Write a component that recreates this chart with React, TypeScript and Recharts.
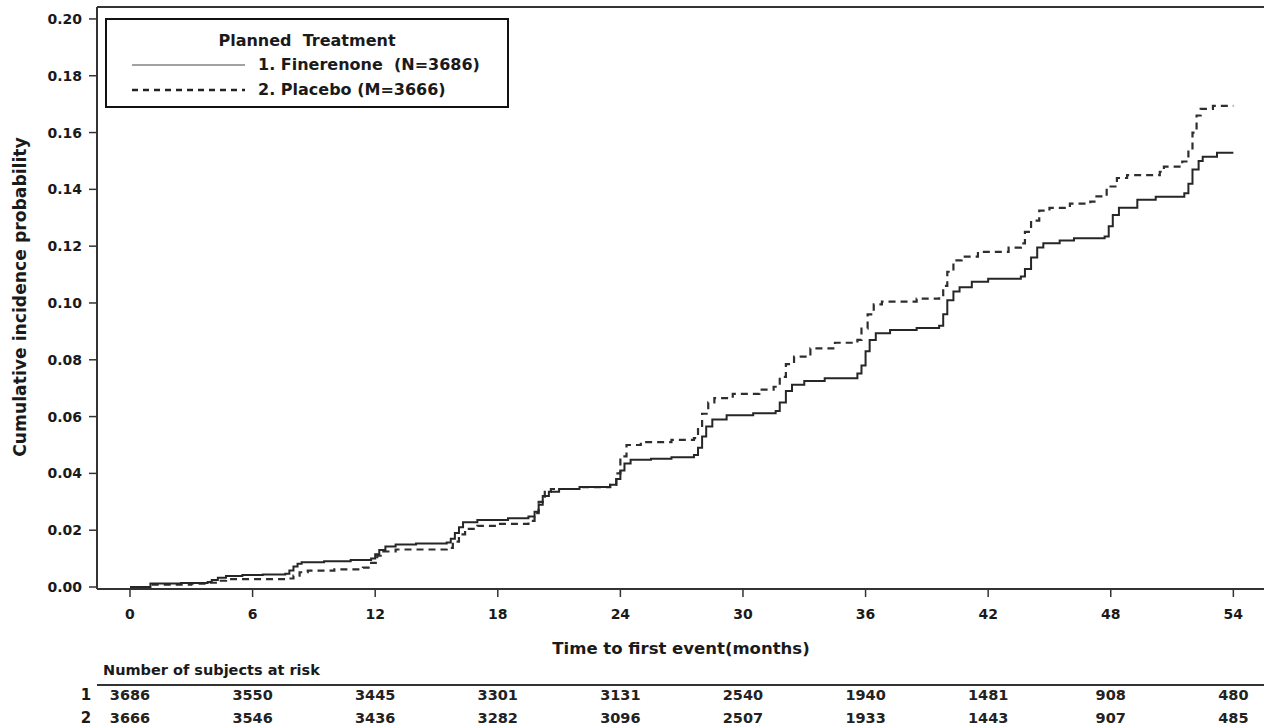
import { CartesianGrid, ComposedChart, Line, ReferenceLine, XAxis, YAxis } from 'recharts';

// Cumulative incidence (time to first event), Finerenone vs Placebo,
// with the number-at-risk table under the x axis.

const FONT = "'DejaVu Sans', Verdana, sans-serif";
const INK = '#1a1a1a';

const monthTicks = [0, 6, 12, 18, 24, 30, 36, 42, 48, 54];
const cifTicks = [0, 0.02, 0.04, 0.06, 0.08, 0.1, 0.12, 0.14, 0.16, 0.18, 0.2];

const riskFinerenone = [3686, 3550, 3445, 3301, 3131, 2540, 1940, 1481, 908, 480];
const riskPlacebo = [3666, 3546, 3436, 3282, 3096, 2507, 1933, 1443, 907, 485];

const finerenoneMonths = [
  0, 1.0, 2.5, 3.8, 4.0, 4.3, 4.7, 5.5, 6.5, 7.6, 7.8, 8.0, 8.2, 8.4, 9.5, 10.8, 11.8, 12.0,
  12.2, 12.5, 13.0, 14.0, 15.5, 15.7, 15.9, 16.1, 16.3, 17.0, 18.5, 19.5, 19.8, 20.0, 20.2,
  20.5, 21.0, 22.0, 23.5, 23.8, 24.0, 24.2, 24.5, 25.5, 26.5, 27.6, 27.8, 28.0, 28.2, 28.5,
  29.2, 30.5, 31.6, 31.8, 32.1, 32.4, 33.0, 34.0, 35.6, 35.8, 36.0, 36.2, 36.5, 37.2, 38.5,
  39.6, 39.8, 40.0, 40.3, 40.6, 41.2, 42.0, 43.6, 43.8, 44.1, 44.4, 44.7, 45.5, 46.2, 47.7,
  47.9, 48.1, 48.4, 49.3, 50.2, 51.6, 51.8, 52.0, 52.3, 52.5, 53.2, 54.0,
];
const finerenoneCif = [
  0, 0.0012, 0.0014, 0.0018, 0.0025, 0.0033, 0.0039, 0.0042, 0.0044, 0.0047, 0.0058, 0.0072,
  0.0082, 0.0087, 0.0091, 0.0095, 0.01, 0.0115, 0.013, 0.0143, 0.015, 0.0153, 0.0157, 0.017,
  0.019, 0.021, 0.0228, 0.0236, 0.0242, 0.0248, 0.0265, 0.029, 0.032, 0.0335, 0.0345, 0.0352,
  0.036, 0.038, 0.041, 0.0435, 0.0448, 0.0452, 0.0457, 0.0465, 0.049, 0.053, 0.0565, 0.059,
  0.0605, 0.0612, 0.062, 0.065, 0.069, 0.0712, 0.0725, 0.0735, 0.0752, 0.078, 0.083, 0.087,
  0.0893, 0.0905, 0.0912, 0.092, 0.096, 0.101, 0.104, 0.1055, 0.1075, 0.1085, 0.1093, 0.112,
  0.116, 0.1195, 0.121, 0.122, 0.1228, 0.1234, 0.127, 0.131, 0.1335, 0.1363, 0.1374, 0.1386,
  0.142, 0.147, 0.15, 0.1515, 0.1529, 0.1529,
];

const placeboMonths = [
  0, 1.0, 3.0, 3.8, 4.2, 4.7, 7.8, 8.0, 8.3, 8.7, 10.0, 11.4, 11.8, 12.1, 12.4, 13.0, 15.5,
  15.8, 16.1, 16.4, 17.0, 18.0, 19.5, 19.8, 20.0, 20.3, 20.6, 22.0, 23.5, 23.8, 24.0, 24.3,
  25.0, 26.5, 27.6, 27.8, 28.0, 28.3, 28.6, 29.5, 30.8, 31.5, 31.8, 32.1, 32.5, 33.3, 34.5,
  35.6, 35.8, 36.1, 36.4, 36.8, 38.5, 39.6, 39.8, 40.0, 40.3, 40.7, 41.5, 43.0, 43.6, 43.8,
  44.1, 44.5, 45.0, 46.0, 47.0, 47.3, 47.8, 48.3, 48.8, 50.4, 50.6, 51.5, 51.8, 52.0, 52.2,
  52.4, 53.0, 54.0,
];
const placeboCif = [
  0, 0.0008, 0.0012, 0.0015, 0.0022, 0.0028, 0.003, 0.004, 0.0052, 0.0058, 0.0062, 0.0068,
  0.0085, 0.011, 0.0125, 0.0132, 0.0138, 0.016, 0.0185, 0.0205, 0.0215, 0.0222, 0.0233, 0.026,
  0.03, 0.0335, 0.0345, 0.0352, 0.036, 0.04, 0.046, 0.05, 0.051, 0.0518, 0.0524, 0.056, 0.061,
  0.065, 0.0665, 0.068, 0.0695, 0.0705, 0.074, 0.0785, 0.0811, 0.084, 0.086, 0.087, 0.091,
  0.096, 0.0995, 0.1005, 0.1015, 0.1022, 0.106, 0.111, 0.115, 0.1163, 0.118, 0.1195, 0.121,
  0.125, 0.129, 0.1325, 0.1335, 0.135, 0.1357, 0.1375, 0.141, 0.144, 0.145, 0.1462, 0.148,
  0.1498, 0.154, 0.16, 0.166, 0.1683, 0.1694, 0.1694,
];

const finerenoneData = finerenoneMonths.map((month, i) => ({ month, cif: finerenoneCif[i] }));
const placeboData = placeboMonths.map((month, i) => ({ month, cif: placeboCif[i] }));

const X_DOMAIN: [number, number] = [-1.615, 55.5];
const Y_DOMAIN: [number, number] = [-0.0007, 0.2042];

// tick label + the two at-risk counts under it
function MonthTick(props: any) {
  const { x, y, payload } = props;
  const i = monthTicks.indexOf(payload.value);
  const base = { fontFamily: FONT, fontWeight: 700, textAnchor: 'middle' as const, dominantBaseline: 'central' as const };
  return (
    <g>
      <text x={x} y={y + 17} fontSize={14} fill={INK} {...base}>
        {payload.value}
      </text>
      <text x={x} y={y + 98} fontSize={14.5} fill="#222" {...base}>
        {riskFinerenone[i]}
      </text>
      <text x={x} y={y + 121} fontSize={14.5} fill="#222" {...base}>
        {riskPlacebo[i]}
      </text>
    </g>
  );
}

function Overlay() {
  const bold = { fontFamily: FONT, fontWeight: 700, fill: INK, dominantBaseline: 'central' as const };
  return (
    <svg
      width={1264}
      height={727}
      style={{ position: 'absolute', left: 0, top: 0, pointerEvents: 'none' }}
    >
      <text x={20} y={297} fontSize={17.2} textAnchor="middle" transform="rotate(-90 20 297)" {...bold}>
        Cumulative incidence probability
      </text>
      <text x={681} y={648} fontSize={16.5} textAnchor="middle" {...bold}>
        Time to first event(months)
      </text>

      {/* at-risk table */}
      <text x={103} y={670} fontSize={14.5} {...bold}>
        Number of subjects at risk
      </text>
      <line x1={97} x2={1264} y1={685} y2={685} stroke="#333" strokeWidth={2} />
      <text x={86} y={695} fontSize={15} textAnchor="middle" {...bold}>
        1
      </text>
      <text x={86} y={718} fontSize={15} textAnchor="middle" {...bold}>
        2
      </text>

      {/* legend */}
      <rect x={106} y={19} width={402} height={88} fill="#fff" stroke="#111" strokeWidth={2} />
      <text x={307} y={40} fontSize={16} textAnchor="middle" style={{ whiteSpace: 'pre' }} {...bold}>
        {'Planned  Treatment'}
      </text>
      <line x1={132} x2={245} y1={65} y2={65} stroke="#444" strokeWidth={1} />
      <text x={258} y={64} fontSize={16} style={{ whiteSpace: 'pre' }} {...bold}>
        {'1. Finerenone  (N=3686)'}
      </text>
      <line x1={132} x2={245} y1={90} y2={90} stroke="#222" strokeWidth={2.5} strokeDasharray="6 5" />
      <text x={258} y={89} fontSize={16} style={{ whiteSpace: 'pre' }} {...bold}>
        {'2. Placebo (M=3666)'}
      </text>
    </svg>
  );
}

export default function App() {
  return (
    <div style={{ position: 'absolute', left: 0, top: 0, width: 1264, height: 727, background: '#fff' }}>
      <ComposedChart width={1264} height={727} margin={{ top: 7, right: 0, left: 0, bottom: 0 }}>
        <CartesianGrid stroke="none" />
        <XAxis
          type="number"
          dataKey="month"
          domain={X_DOMAIN}
          allowDataOverflow
          ticks={monthTicks}
          height={138}
          tickSize={8}
          tickMargin={0}
          axisLine={{ stroke: '#333', strokeWidth: 2 }}
          tickLine={{ stroke: '#333', strokeWidth: 1.5 }}
          tick={<MonthTick />}
          interval={0}
        />
        <YAxis
          type="number"
          domain={Y_DOMAIN}
          allowDataOverflow
          ticks={cifTicks}
          width={97}
          tickSize={8}
          tickMargin={7}
          interval={0}
          tickFormatter={(v: number) => v.toFixed(2)}
          axisLine={{ stroke: '#333', strokeWidth: 2 }}
          tickLine={{ stroke: '#333', strokeWidth: 1.5 }}
          tick={{ fontFamily: FONT, fontWeight: 700, fontSize: 14, fill: INK }}
        />
        <ReferenceLine y={Y_DOMAIN[1]} stroke="#333" strokeWidth={2} ifOverflow="extendDomain" />
        <Line
          data={placeboData}
          dataKey="cif"
          type="stepAfter"
          stroke="#2e2e2e"
          strokeWidth={2.2}
          strokeDasharray="7 5"
          dot={false}
          activeDot={false}
          isAnimationActive={false}
        />
        <Line
          data={finerenoneData}
          dataKey="cif"
          type="stepAfter"
          stroke="#262626"
          strokeWidth={2}
          dot={false}
          activeDot={false}
          isAnimationActive={false}
        />
      </ComposedChart>
      <Overlay />
    </div>
  );
}
